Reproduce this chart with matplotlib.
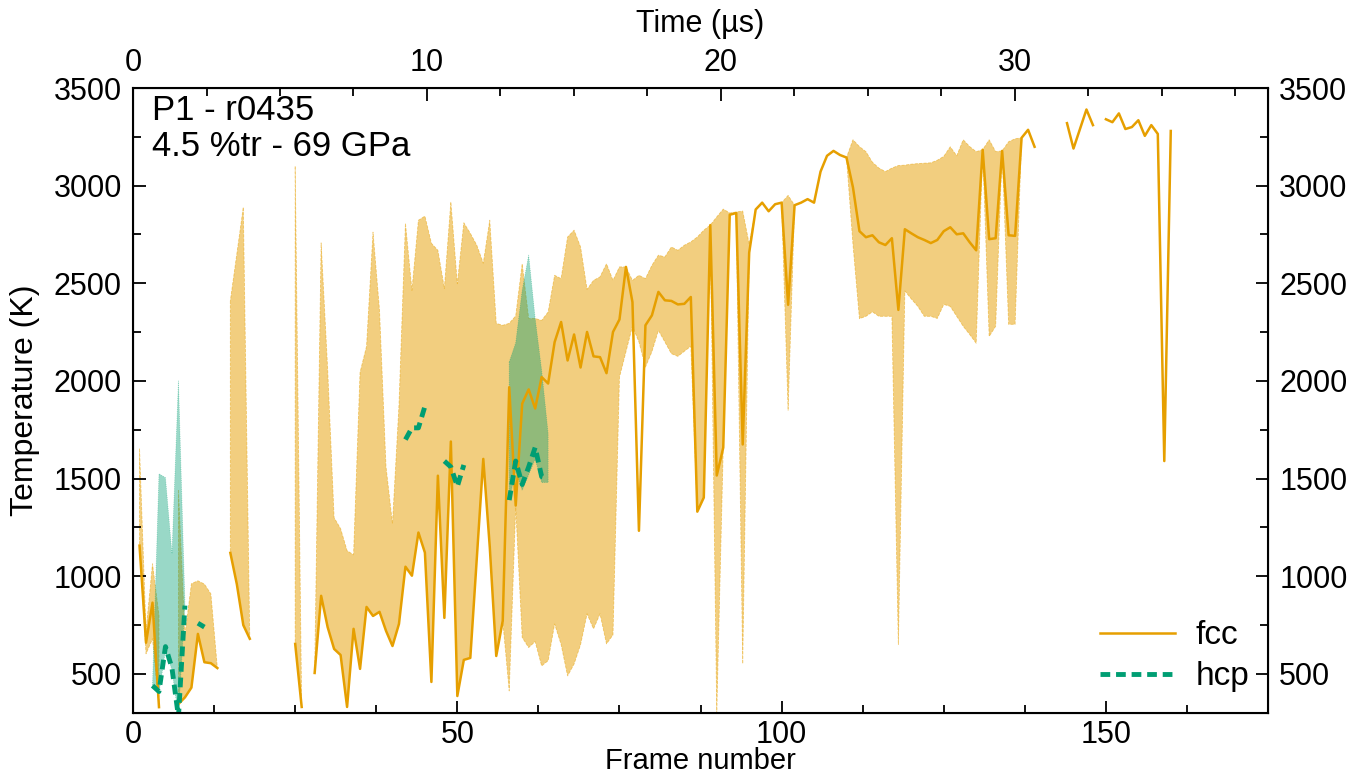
import numpy as np
import matplotlib
matplotlib.use('Agg')
import matplotlib.pyplot as plt
from matplotlib.ticker import MultipleLocator

plt.rcParams['font.family'] = ['Liberation Sans', 'DejaVu Sans']

nan = np.nan

# frame index 0..160
frames = np.arange(161)
us_per_frame = 0.2207

fcc_T = [
    nan, 1157, 660, 865, 330, nan, nan, 346, 380, 430,
    705, 560, 555, 530, nan, 1120, 960, 750, 680, nan,
    nan, nan, nan, nan, nan, 654, 331, nan, 505, 900,
    740, 628, 597, 331, 731, 526, 843, 797, 818, 721,
    643, 756, 1049, 1003, 1224, 1121, 459, 1515, 787, 1690,
    387, 572, 582, 1090, 1601, 1150, 592, 772, 1968, 1362,
    1884, 1957, 1859, 2020, 1987, 2199, 2302, 2105, 2238, 2069,
    2251, 2126, 2122, 2040, 2251, 2315, 2584, 2404, 1233, 2285,
    2336, 2456, 2413, 2410, 2392, 2395, 2430, 1331, 1403, 2798,
    1516, 1659, 2851, 2860, 1675, 2657, 2878, 2913, 2869, 2905,
    2913, 2390, 2900, 2913, 2931, 2913, 3072, 3153, 3178, 3157,
    3144, 2991, 2767, 2736, 2746, 2710, 2696, 2731, 2364, 2777,
    2756, 2736, 2722, 2706, 2722, 2767, 2787, 2751, 2756, 2710,
    2669, 3184, 2726, 2731, 3178, 2746, 2743, 3245, 3286, 3199,
    nan, nan, nan, nan, 3320, 3190, 3290, 3390, 3310, nan,
    3340, 3325, 3370, 3290, 3300, 3335, 3255, 3310, 3265, 1590,
    3280,
]

fcc_hi = [
    nan, 1654, 720, 1064, 800, nan, nan, 1440, 700, 962,
    977, 960, 910, 530, nan, 2410, 2650, 2890, 680, nan,
    nan, nan, nan, nan, nan, 3100, 331, nan, 505, 2707,
    2064, 1300, 1244, 1131, 1110, 2044, 2177, 2762, 2362, 1562,
    1269, 1874, 2808, 2464, 2823, 2844, 2705, 2669, 2474, 2917,
    2498, 2810, 2756, 2695, 2603, 2823, 2295, 2285, 2295, 2333,
    2600, 2320, 2320, 2310, 2353, 2541, 2524, 2737, 2772, 2686,
    2469, 2515, 2533, 2600, 2515, 2584, 2584, 2515, 2541, 2524,
    2592, 2644, 2635, 2686, 2669, 2695, 2712, 2737, 2772, 2798,
    2840, 2880, 2860, 2865, 2870, 2700, 2878, nan, nan, nan,
    2913, 2950, 2900, nan, nan, nan, nan, nan, nan, nan,
    3144, 3235, 3200, 3174, 3120, 3090, 3072, 3090, 3103, 3105,
    3110, 3113, 3115, 3117, 3130, 3150, 3199, 3153, 3235, 3200,
    3174, 3184, 3235, 3174, 3178, 3225, 3240, 3245, nan, nan,
] + [nan] * 21

fcc_lo = [
    nan, 1157, 603, 680, 330, nan, nan, 345, 380, 430,
    705, 560, 555, 530, nan, 1120, 960, 750, 680, nan,
    nan, nan, nan, nan, nan, 654, 331, nan, 505, 900,
    740, 628, 597, 331, 731, 526, 843, 797, 818, 721,
    643, 756, 1049, 1003, 1224, 1121, 459, 1515, 787, 1690,
    387, 572, 582, 1090, 1601, 1150, 592, 772, 413, 1353,
    687, 635, 666, 541, 568, 756, 651, 490, 551, 650,
    808, 731, 808, 654, 700, 2020, 2150, 2280, 2200, 2071,
    2150, 2259, 2200, 2140, 2126, 2152, 2178, 1331, 1403, 2798,
    300, 1659, 2851, 2860, 552, 2657, 2878, nan, nan, nan,
    2913, 1850, 2900, nan, nan, nan, nan, nan, nan, nan,
    3144, 2700, 2319, 2331, 2354, 2331, 2331, 2331, 650, 2461,
    2420, 2382, 2331, 2331, 2320, 2392, 2382, 2331, 2280, 2238,
    2193, 3184, 2228, 2280, 3178, 2290, 2290, 3245, nan, nan,
] + [nan] * 21

hcp_T = ([nan] * 3 + [440, 410, 640, 530, 280, 850, nan, 760, 740]
         + [nan] * 30 + [1700, 1760, 1760, 1870, nan, nan, 1590, 1560, 1460, 1570]
         + [nan] * 6 + [1390, 1590, 1470, 1560, 1660, 1510, 1500] + [nan] * 96)
hcp_hi = ([nan] * 3 + [440, 1525, 1505, 1115, 2000, 860] + [nan] * 49
          + [2097, 2195, 2464, 2644, 2320, 2054, 1731] + [nan] * 96)
hcp_lo = ([nan] * 3 + [440, 400, 620, 520, 280, 850] + [nan] * 49
          + [1390, 1540, 1440, 1520, 1600, 1480, 1480] + [nan] * 96)

orange = '#E69F00'
green = '#009E73'

fig = plt.figure(figsize=(13.66, 7.74), dpi=100)
ax = fig.add_axes([0.0974, 0.0788, 0.8309, 0.8075])

ax.fill_between(frames, fcc_lo, fcc_hi, facecolor=orange, alpha=0.5,
                edgecolor=orange, linestyle='--', linewidth=0.6)
ax.fill_between(frames, hcp_lo, hcp_hi, facecolor=green, alpha=0.4,
                edgecolor=green, linestyle=':', linewidth=0.6)
ax.plot(frames, fcc_T, color=orange, lw=1.8, label='fcc')
ax.plot(frames, hcp_T, color=green, lw=3.5, linestyle=(0, (2, 1.2)), label='hcp')

ax.set_xlim(0, 175)
ax.set_ylim(300, 3500)
ax.xaxis.set_major_locator(MultipleLocator(50))
ax.xaxis.set_minor_locator(MultipleLocator(12.5))
ax.yaxis.set_major_locator(MultipleLocator(500))
ax.yaxis.set_minor_locator(MultipleLocator(250))
ax.tick_params(which='both', direction='in', labelsize=22, width=1.3,
               left=True, right=True, bottom=True, top=False, labelright=True)
ax.tick_params(which='major', length=9)
ax.tick_params(which='minor', length=5.5)
ax.tick_params(axis='x', pad=5)
ax.tick_params(axis='y', pad=8)
for s in ax.spines.values():
    s.set_linewidth(1.5)

ax.set_xlabel('Frame number', fontsize=21, labelpad=-2)
ax.set_ylabel('Temperature (K)', fontsize=23, labelpad=10)

ax2 = ax.twiny()
ax2.set_xlim(0, 175 * us_per_frame)
ax2.xaxis.set_major_locator(MultipleLocator(10))
ax2.xaxis.set_minor_locator(MultipleLocator(2.5))
ax2.tick_params(which='both', direction='in', labelsize=22, width=1.3, pad=7)
ax2.tick_params(which='major', length=9)
ax2.tick_params(which='minor', length=5.5)
ax2.set_xlabel('Time (µs)', fontsize=22, labelpad=12)

ax.text(0.017, 0.99, 'P1 - r0435\n4.5 %tr - 69 GPa', transform=ax.transAxes,
        fontsize=25, va='top', ha='left', linespacing=1.1)

ax.legend(loc='lower right', frameon=False, fontsize=24, handlelength=2.25,
          handletextpad=0.63, bbox_to_anchor=(1.01, -0.015), labelspacing=0.3)

fig.savefig('out.png', dpi=100)
